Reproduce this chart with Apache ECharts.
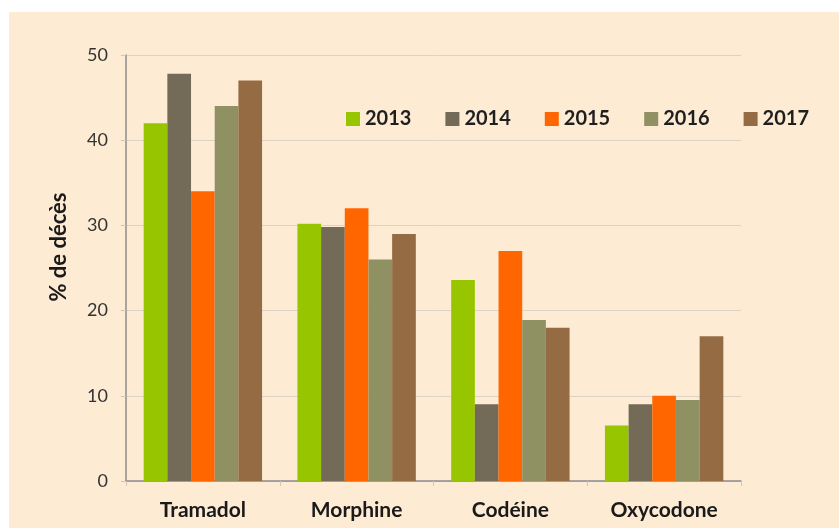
<!DOCTYPE html>
<html>
<head>
<meta charset="utf-8">
<script src="https://cdn.jsdelivr.net/npm/echarts@6/dist/echarts.min.js"></script>
<style>
  html, body { margin: 0; padding: 0; background: #fff; }
  #chart {
    position: absolute;
    left: 9px;
    top: 12px;
    width: 830px;
    height: 516px;
    background: #fdebd4;
  }
</style>
</head>
<body>
<div id="chart"></div>
<script>
  const drugs = ['Tramadol', 'Morphine', 'Codéine', 'Oxycodone'];
  const years = ['2013', '2014', '2015', '2016', '2017'];
  const v2013 = [42, 30.2, 23.6, 6.5];
  const v2014 = [47.8, 29.8, 9, 9];
  const v2015 = [34, 32, 27, 10];
  const v2016 = [44, 26, 18.9, 9.5];
  const v2017 = [47, 29, 18, 17];
  const yTicks = [0, 10, 20, 30, 40, 50];

  const values = [v2013, v2014, v2015, v2016, v2017];
  const colors = ['#97c500', '#736a58', '#ff6600', '#8f9163', '#946b43'];

  let myChart = echarts.init(document.getElementById('chart'));
  myChart.setOption({
    backgroundColor: 'transparent',
    textStyle: { fontFamily: 'Lato' },
    legend: {
      left: 332,
      top: 92,
      itemWidth: 14,
      itemHeight: 14,
      itemGap: 34,
      icon: 'rect',
      textStyle: { color: '#1f1f1f', fontSize: 20, fontWeight: 'bold', fontFamily: 'Lato' },
      data: years
    },
    grid: {
      left: 117,
      top: 43,
      right: 98,
      bottom: 47
    },
    xAxis: {
      type: 'category',
      data: drugs,
      axisLine: { lineStyle: { color: '#8c8c8c', width: 1.5 } },
      axisTick: { show: true, length: 5, lineStyle: { color: '#cfc6b8' } },
      axisLabel: { color: '#1a1a1a', fontSize: 21, fontWeight: 'bold', margin: 19 }
    },
    yAxis: {
      type: 'value',
      min: yTicks[0],
      max: yTicks[yTicks.length - 1],
      interval: 10,
      name: '% de décès',
      nameLocation: 'middle',
      nameGap: 56,
      nameTextStyle: { color: '#1a1a1a', fontSize: 22, fontWeight: 'bold', padding: [0, 0, 0, 42] },
      axisLine: { show: true, lineStyle: { color: '#8c8c8c', width: 1.5 } },
      axisTick: { show: true, length: 5, lineStyle: { color: '#cfc6b8' } },
      axisLabel: { color: '#333333', fontSize: 18, margin: 18 },
      splitLine: { lineStyle: { color: '#dcd3c6', width: 1 } }
    },
    series: years.map((y, i) => ({
      name: y,
      type: 'bar',
      data: values[i],
      color: colors[i],
      barGap: '0%',
      barCategoryGap: '23%'
    }))
  });
</script>
</body>
</html>
